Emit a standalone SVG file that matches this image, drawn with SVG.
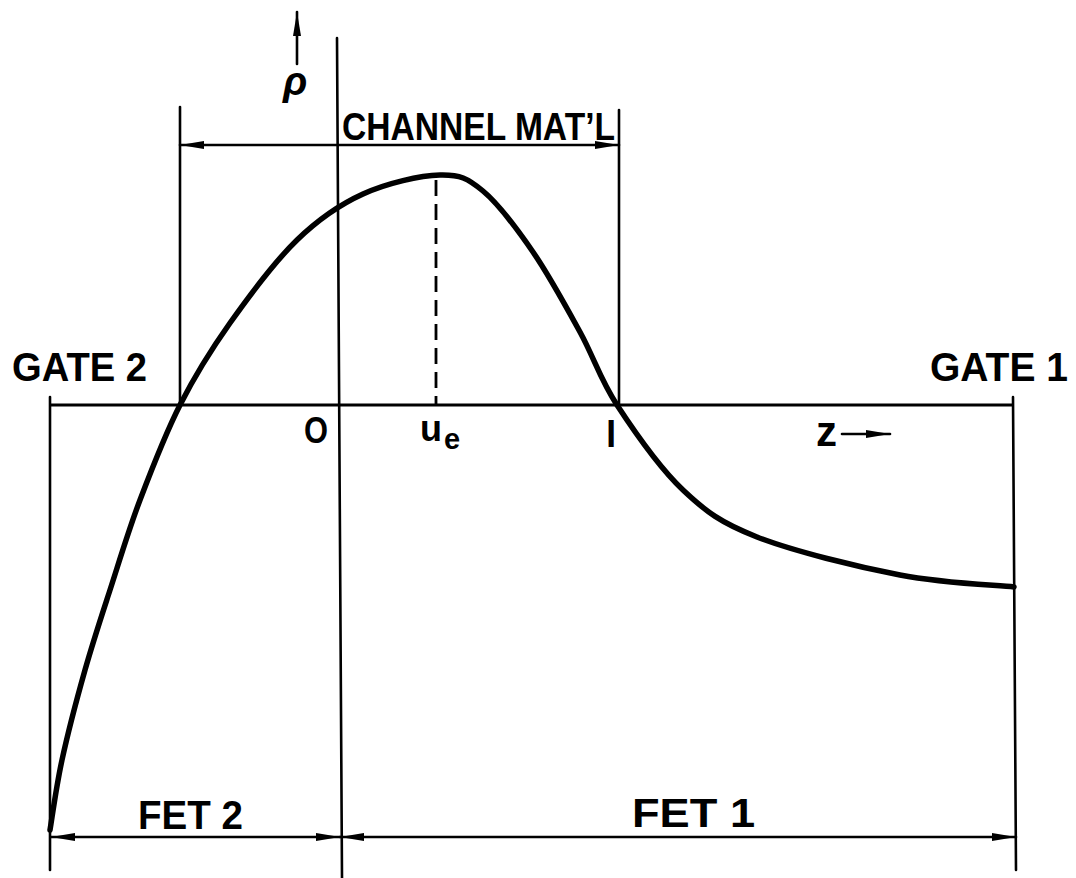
<svg xmlns="http://www.w3.org/2000/svg" width="1076" height="878" viewBox="0 0 1076 878">
<style>
.ln{stroke:#000;stroke-width:2.6;fill:none;stroke-linecap:round}
.ax{stroke:#000;stroke-width:3.2;fill:none}
.crv{stroke:#000;stroke-width:5.5;fill:none;stroke-linejoin:round;stroke-linecap:round}
.dash{stroke:#000;stroke-width:2.8;fill:none;stroke-dasharray:16 8}
.t{font-family:"Liberation Sans",Arial,sans-serif;font-weight:bold;fill:#000}
</style>
<defs>
<marker id="ah" viewBox="0 0 24 10" refX="24" refY="5" markerWidth="24" markerHeight="10" markerUnits="userSpaceOnUse" orient="auto-start-reverse">
<path d="M0,1 L24,5 L0,9 Z" fill="#000"/>
</marker>
</defs>
<rect width="1076" height="878" fill="#fff"/>
<g id="frame">
<line class="ax" x1="50" y1="405" x2="1014" y2="405"/>
<line class="ln" x1="50" y1="397" x2="50" y2="870"/>
<line class="ln" x1="1013" y1="397" x2="1016" y2="870"/>
<line class="ln" x1="337" y1="38" x2="342" y2="878"/>
<line class="ln" x1="180" y1="107" x2="180" y2="405"/>
<line class="ln" x1="619" y1="110" x2="619" y2="405"/>
</g>
<g id="connectors">
<line class="ln" x1="180" y1="145" x2="619" y2="145" marker-start="url(#ah)" marker-end="url(#ah)"/>
<line class="ln" x1="297" y1="64" x2="297" y2="12" marker-end="url(#ah)"/>
<line class="ln" x1="842" y1="434" x2="890" y2="434" marker-end="url(#ah)"/>
<line class="ln" x1="51" y1="837" x2="340" y2="837" marker-start="url(#ah)" marker-end="url(#ah)"/>
<line class="ln" x1="340" y1="837" x2="1016" y2="837" marker-start="url(#ah)" marker-end="url(#ah)"/>
<line class="dash" x1="436" y1="180" x2="436" y2="405"/>
</g>
<g id="curve">
<path class="crv" d="M50,830 C52,818.3 56.2,786.7 62,760 C67.8,733.3 77,698.3 85,670 C93,641.7 100.8,618.3 110,590 C119.2,561.7 128.3,530.8 140,500 C151.7,469.2 165,434.5 180,405 C195,375.5 210.5,350.5 230,323 C249.5,295.5 274.8,261.5 297,240 C319.2,218.5 339.2,204.8 363,194 C386.8,183.2 420,175.5 440,175 C460,174.5 467.5,178.2 483,191 C498.5,203.8 516.8,228.5 533,252 C549.2,275.5 566,306.5 580,332 C594,357.5 599.8,378.7 617,405 C634.2,431.3 659.7,468 683,490 C706.3,512 720.8,522.8 757,537 C793.2,551.2 857.2,566.7 900,575 C942.8,583.3 995,585 1014,587"/>
</g>
<g id="labels">
<text class="t" x="12" y="381" font-size="40" textLength="135" lengthAdjust="spacingAndGlyphs">GATE 2</text>
<text class="t" x="930" y="381" font-size="40" textLength="138" lengthAdjust="spacingAndGlyphs">GATE 1</text>
<text class="t" x="342" y="140" font-size="38" textLength="273" lengthAdjust="spacingAndGlyphs">CHANNEL MAT’L</text>
<text class="t" x="283" y="95" font-size="40" font-style="italic">ρ</text>
<text class="t" x="304" y="443" font-size="37" textLength="24" lengthAdjust="spacingAndGlyphs">O</text>
<text class="t" x="420" y="441" font-size="36">u</text>
<text class="t" x="444" y="449" font-size="29">e</text>
<text class="t" x="606" y="447" font-size="37">l</text>
<text class="t" x="816" y="446" font-size="42">z</text>
<text class="t" x="138" y="829" font-size="40" textLength="105" lengthAdjust="spacingAndGlyphs">FET 2</text>
<text class="t" x="632" y="827" font-size="40" textLength="123" lengthAdjust="spacingAndGlyphs">FET 1</text>
</g>
</svg>
